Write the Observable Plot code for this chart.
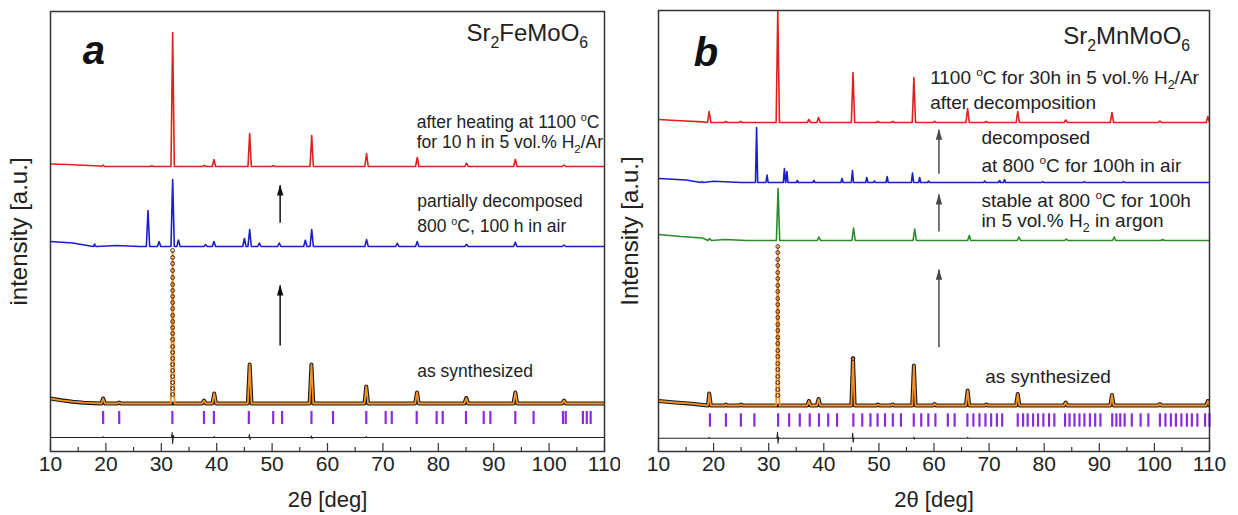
<!DOCTYPE html>
<html><head><meta charset="utf-8">
<script src="https://cdn.jsdelivr.net/npm/d3@7"></script>
<script src="https://cdn.jsdelivr.net/npm/@observablehq/plot@0.6"></script>
<style>
body{margin:0;background:#fff;font-family:"Liberation Sans",Arial,sans-serif;}
#wrap{position:relative;width:1238px;height:515px;overflow:hidden;}
#pa{position:absolute;left:0;top:0;}
#pb{position:absolute;left:620px;top:0;}
</style></head><body><div id="wrap"><div id="pa"></div><div id="pb"></div></div>
<script>
// ---------- shared axis ticks ----------
const xMajor = [10,20,30,40,50,60,70,80,90,100,110];
const xMinor = [15,25,35,45,55,65,75,85,95,105];

// ---------- panel a : Sr2FeMoO6 ----------
const aRedBase = 285;
const aRedBg = [[10,2.5],[13,2],[16,1.2],[19,0.5],[22,0]];
const aRedPeaks = [[19.5,1.5],[28.3,0.8],[32.05,134],[37.8,1.2],[39.5,7],[45.95,33],[50.2,0.8],[57.15,31],[67.05,13],[76.2,9],[85.1,3.5],[93.9,7],[102.7,1.5]];

const aBlueBase = 205;
const aBlueBg = [[10,5],[14,3.5],[18,2.5],[22,1],[26,0]];
const aBluePeaks = [[18,0.8],[27.6,36],[29.6,5],[32.05,67],[33.1,6.5],[38,2],[39.5,5],[45.0,8],[45.95,17],[47.7,3.5],[51.3,3.5],[56.0,6.3],[57.15,17],[67.05,7],[72.6,3.2],[76.2,5],[85.1,2.2],[93.9,4.3],[102.7,1.5]];

const aFitBase = 48;
const aFitBg = [[10,5],[12,3.2],[14,1.8],[16,0.8],[18,0.3],[20,0]];
const aFitPeaks = [[19.5,5],[22.4,1],[32.05,152],[37.7,3],[39.55,10],[45.95,39],[57.1,39],[67.0,17],[76.15,11],[85.05,5.5],[93.9,11],[102.7,3]];
const aObsMain = [153,146,140,133,126,119,113,107,101,95,88,82,76,70,64,57,51,45,39,33,27,21,15,9];
const aObsMainPos = 32.05;

const aBragg = [19.5,22.4,32.0,37.7,39.5,45.8,50.2,51.8,57.1,61.0,67.0,70.5,71.6,76.1,79.7,80.8,85.0,88.2,89.4,93.9,97.2,102.5,103.0,106.1,106.8,107.5];
const aDiffBase = 14;
const aDiff = [[10,0],[19.4,0],[19.5,0.8],[19.6,0],[31.85,0],[31.95,5],[32.05,-6],[32.15,2],[32.3,0],[39.45,0],[39.55,1],[39.65,0],[45.8,0],[45.9,3],[46.0,-2],[46.1,0],[57.0,0],[57.1,1.5],[57.2,-1],[57.3,0],[66.9,0],[67.0,1],[67.1,0],[110,0]];

const aLetter = "a";
const aTitle = "Sr_{2}FeMoO_{6}";
const aNotes = ["after heating at 1100 ^{o}C","for 10 h in 5 vol.% H_{2}/Ar","partially decomposed","800 ^{o}C, 100 h in air","as synthesized"];
const aNoteX = [76.1,76.1,76.2,76.2,76.2];
const aNoteY = [329,309,250,225,80];
const aArrowX = [51.45,51.45];
const aArrowFrom = [228.7,106];
const aArrowTo = [266,166];

// ---------- panel b : Sr2MnMoO6 ----------
const bRedBase = 329;
const bRedBg = [[10,3],[14,1.8],[18,0.6],[21,0]];
const bRedPeaks = [[19.2,11],[22.2,1],[24.9,1],[31.65,113],[37.3,3],[39.05,5],[45.3,50],[49.8,1],[52.5,1],[56.35,45],[60.1,1.2],[66.1,14],[69.5,1],[75.2,11],[83.9,2.5],[92.3,10],[101,1.5],[109.7,6]];

const bBlueBase = 269;
const bBlueBg = [[10,4],[15,2.5],[20,1.2],[25,0]];
const bBluePeaks = [[17.9,1],[27.8,55],[29.7,7.5],[32.85,14],[33.3,11],[35.2,2],[38.2,2],[43.3,4],[45.2,12],[47.8,5],[49.2,1.5],[51.5,6],[56.1,9.5],[57.4,5],[59,1.5],[69.2,1.5],[71.9,2],[72.8,3],[79.7,1],[87.3,1],[94.4,1]];

const bGreenBase = 211;
const bGreenBg = [[10,6],[14,4],[18,2.5],[22,1],[26,0]];
const bGreenPeaks = [[19.3,2],[31.7,52],[39.1,3.5],[45.4,12.5],[56.5,11.5],[66.4,5],[75.4,3.5],[84,1.5],[92.7,3.5],[101.5,1]];

const bFitBase = 46;
const bFitBg = [[10,4.5],[13,3],[16,1.8],[19,0.8],[22,0]];
const bFitPeaks = [[19.2,12],[22.2,1],[25,1],[31.65,159],[37.3,4.5],[39.05,6.5],[45.3,47],[49.8,1],[52.5,1],[56.35,40],[60.1,1.5],[66.1,15],[69.5,1],[75.2,11.5],[83.9,3],[92.3,10.5],[101,1.5],[109.7,4.5]];
const bObsMain = [159,153,146,140,133,127,120,114,107,101,94,88,81,75,68,62,55,49,42,36,29,23,16,10];
const bObsMainPos = 31.65;
const bObsSecond = [47];
const bObsSecondPos = 45.3;

const bBragg = [19.34,22.24,24.95,27.4,31.71,33.71,35.64,37.45,39.12,40.8,42.41,45.37,46.98,48.47,49.76,51.11,52.53,54.0,56.33,57.68,58.97,60.26,62.51,63.74,66.06,67.15,68.25,69.34,70.37,71.41,72.37,75.2,76.17,77.0,77.98,78.88,79.85,80.88,81.84,83.78,84.6,85.5,86.4,87.3,88.3,89.25,90.2,92.35,93.1,93.8,94.6,95.9,97.5,98.9,101,102,103,103.9,104.9,105.9,106.8,107.8,109.2,110];
const bDiffBase = 13.3;
const bDiff = [[10,0],[19.1,0],[19.2,0.8],[19.3,0],[31.5,0],[31.6,6],[31.7,-5],[31.8,1],[31.9,0],[45.15,0],[45.25,5],[45.35,-4],[45.45,0],[56.3,0],[56.35,1],[56.45,-1],[56.5,0],[66.0,0],[66.1,0.8],[66.2,0],[110,0]];

const bLetter = "b";
const bTitle = "Sr_{2}MnMoO_{6}";
const bNotes = ["1100 ^{o}C for 30h in 5 vol.% H_{2}/Ar","after decomposition","decomposed","at 800 ^{o}C for 100h in air","stable at 800 ^{o}C for 100h","in 5 vol.% H_{2} in argon","as synthesized"];
const bNoteX = [59.3,59.3,68.6,68.6,68.6,68.6,69.3];
const bNoteY = [373.5,349,314,285.5,250.5,230.5,74.5];
const bArrowX = [60.9,60.9,60.9];
const bArrowFrom = [277.7,220,104.3];
const bArrowTo = [321.7,257,181.7];

// ---------- helpers ----------
function pattern(base, bg, peaks, w, skip) {
  const pts = bg.map(([x, v]) => ({x, y: base + v}));
  for (const [p, h] of peaks) {
    const hh = (skip !== undefined && p === skip) ? 0 : h;
    pts.push({x: p - w, y: base}, {x: p, y: base + hh}, {x: p + w, y: base});
  }
  pts.push({x: 110.5, y: base});
  pts.sort((a, b) => a.x - b.x);
  return pts;
}
const arrowHead = {
  draw(ctx) { ctx.moveTo(0, -1); ctx.lineTo(-3.2, 10); ctx.lineTo(3.2, 10); ctx.closePath(); }
};
const FONT = "'Liberation Sans', Arial, Helvetica, sans-serif";

function panel(cfg) {
  const marks = [
    Plot.axisX({ticks: xMajor, tickSize: 0, tickPadding: 5, label: "2θ [deg]", labelAnchor: "center", labelArrow: "none", labelOffset: 55}),
    Plot.axisY({ticks: [], label: cfg.ylabel, labelAnchor: "center", labelArrow: "none", labelOffset: cfg.yLabelOffset}),
    Plot.ruleX(xMajor, {x: d => d, y1: 0, y2: 8, stroke: "#333", strokeWidth: 1.2}),
    Plot.ruleX(xMinor, {x: d => d, y1: 0, y2: 4, stroke: "#333", strokeWidth: 1.2}),
    Plot.ruleX(cfg.bragg, {x: d => d, y1: cfg.braggY[0], y2: cfg.braggY[1], stroke: "#8a2be2", strokeWidth: 2.2}),
    Plot.line(cfg.diff.map(([x, v]) => ({x, y: cfg.diffBase + v})), {x: "x", y: "y", stroke: "#222", strokeWidth: 1.1, clip: true})
  ];
  for (const s of cfg.series) {
    const data = pattern(s.base, s.bg, s.peaks, s.w);
    if (s.fit) {
      const outline = pattern(s.base, s.bg, s.peaks, s.w, s.skip);
      marks.push(Plot.line(outline, {x: "x", y: "y", stroke: "#1a1a1a", strokeWidth: 4, strokeLinejoin: "round", clip: true}));
      marks.push(Plot.line(data, {x: "x", y: "y", stroke: "#f5922a", strokeWidth: 1.8, strokeLinejoin: "round", clip: true}));
    } else {
      marks.push(Plot.line(data, {x: "x", y: "y", stroke: s.color, strokeWidth: 1.6, strokeLinejoin: "round", clip: true}));
    }
  }
  for (const o of cfg.obs) {
    marks.push(Plot.dot(o.vals, {x: () => o.pos, y: d => cfg.fitBase + d, r: 1.9, stroke: "#3a2a1a", strokeWidth: 1, fill: "none"}));
  }
  const arrows = cfg.arrowX.map((x, i) => ({x, y1: cfg.arrowFrom[i], y2: cfg.arrowTo[i]}));
  marks.push(Plot.link(arrows, {x1: "x", x2: "x", y1: "y1", y2: "y2", stroke: cfg.arrowColor, strokeWidth: 1.5}));
  marks.push(Plot.dot(arrows, {x: "x", y: "y2", symbol: arrowHead, fill: cfg.arrowColor, stroke: "none", r: 5}));
  const notes = cfg.notes.map((t, i) => ({t, x: cfg.noteX[i], y: cfg.noteY[i]}));
  marks.push(Plot.text(notes, {x: "x", y: "y", text: "t", textAnchor: "start", fontSize: cfg.noteSize, fill: "#222"}));
  marks.push(Plot.text([cfg.title], {x: () => cfg.titleXY[0], y: () => cfg.titleXY[1], text: d => d, textAnchor: "start", fontSize: 24, fill: "#222"}));
  marks.push(Plot.text([cfg.letter], {x: () => cfg.letterXY[0], y: () => cfg.letterXY[1], text: d => d, textAnchor: "start", fontSize: 40, fontWeight: "bold", fontStyle: "italic", fill: "#111"}));
  marks.push(Plot.frame({stroke: "#333", strokeWidth: 1.5}));
  return Plot.plot({
    width: cfg.width, height: 515,
    marginLeft: cfg.ml, marginRight: cfg.mr, marginTop: cfg.mt, marginBottom: 515 - 451,
    x: {domain: [10, 110]},
    y: {domain: [0, 451 - cfg.mt]},
    style: {fontFamily: FONT, fontSize: "21px", color: "#222", background: "white", overflow: "visible"},
    marks
  });
}

function axisFonts(svg) {
  svg.querySelectorAll("text").forEach(t => {
    const c = t.textContent.trim();
    const tr = t.getAttribute("transform") || "";
    if (/^\d+$/.test(c)) t.style.fontSize = "21px";
    else if (c === "2θ [deg]") t.style.fontSize = "22px";
    else if (/rotate/.test(tr) || /a\.u\./.test(c)) t.style.fontSize = "24px";
  });
}

function richText(svg) {
  svg.querySelectorAll("text").forEach(t => {
    const txt = t.textContent;
    if (!/[_^]\{/.test(txt)) return;
    const fs = parseFloat(getComputedStyle(t).fontSize) || 16;
    while (t.firstChild) t.removeChild(t.firstChild);
    const parts = txt.split(/(_\{[^}]*\}|\^\{[^}]*\})/).filter(p => p.length);
    let shift = 0;
    const NS = "http://www.w3.org/2000/svg";
    for (const p of parts) {
      const ts = document.createElementNS(NS, "tspan");
      let target = 0, content = p;
      if (p.startsWith("_{")) { target = 0.28 * fs; content = p.slice(2, -1); ts.setAttribute("font-size", (0.66 * fs).toFixed(1)); }
      else if (p.startsWith("^{")) { target = -0.42 * fs; content = p.slice(2, -1); ts.setAttribute("font-size", (0.62 * fs).toFixed(1)); }
      const dy = target - shift;
      if (dy !== 0) ts.setAttribute("dy", dy.toFixed(2));
      shift = target;
      ts.textContent = content;
      t.appendChild(ts);
    }
  });
}

const plotA = panel({
  width: 620, ml: 50, mr: 16, mt: 11, ylabel: "intensity [a.u.]", yLabelOffset: 41,
  series: [
    {base: aRedBase, bg: aRedBg, peaks: aRedPeaks, w: 0.3, color: "#e0201f"},
    {base: aBlueBase, bg: aBlueBg, peaks: aBluePeaks, w: 0.3, color: "#1c1ccf"},
    {base: aFitBase, bg: aFitBg, peaks: aFitPeaks, w: 0.33, fit: true, skip: aObsMainPos}
  ],
  fitBase: aFitBase,
  obs: [{vals: aObsMain, pos: aObsMainPos}],
  bragg: aBragg, braggY: [27, 40], diff: aDiff, diffBase: aDiffBase,
  arrowX: aArrowX, arrowFrom: aArrowFrom, arrowTo: aArrowTo, arrowColor: "#111",
  notes: aNotes, noteX: aNoteX, noteY: aNoteY, noteSize: 17.5,
  title: aTitle, titleXY: [85.1, 418], letter: aLetter, letterXY: [15.8, 400]
});
const plotB = panel({
  width: 618, ml: 38, mr: 29, mt: 10, ylabel: "Intensity [a.u.]", yLabelOffset: 38,
  series: [
    {base: bRedBase, bg: bRedBg, peaks: bRedPeaks, w: 0.3, color: "#e0201f"},
    {base: bBlueBase, bg: bBlueBg, peaks: bBluePeaks, w: 0.2, color: "#1c1ccf"},
    {base: bGreenBase, bg: bGreenBg, peaks: bGreenPeaks, w: 0.3, color: "#2b8a2b"},
    {base: bFitBase, bg: bFitBg, peaks: bFitPeaks, w: 0.3, fit: true, skip: bObsMainPos}
  ],
  fitBase: bFitBase,
  obs: [{vals: bObsMain, pos: bObsMainPos}, {vals: bObsSecond, pos: bObsSecondPos}],
  bragg: bBragg, braggY: [24.3, 37.7], diff: bDiff, diffBase: bDiffBase,
  arrowX: bArrowX, arrowFrom: bArrowFrom, arrowTo: bArrowTo, arrowColor: "#4a4a4a",
  notes: bNotes, noteX: bNoteX, noteY: bNoteY, noteSize: 19,
  title: bTitle, titleXY: [83.45, 415], letter: bLetter, letterXY: [16.4, 398]
});
document.getElementById("pa").appendChild(plotA);
document.getElementById("pb").appendChild(plotB);
for (const p of [plotA, plotB]) { axisFonts(p); richText(p); }
</script>
</body></html>
